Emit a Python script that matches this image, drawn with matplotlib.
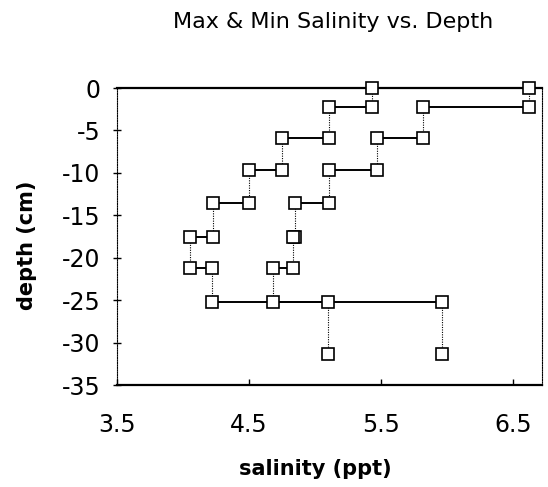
"""Step profiles of max and min salinity through the sediment column."""

import matplotlib

matplotlib.use("Agg")
import matplotlib.pyplot as plt

# layer boundaries (cm, negative downward) and per-layer salinity (ppt)
depth_edges = [0, -2.2, -5.9, -9.7, -13.6, -17.5, -21.2, -25.2, -31.4]
min_salinity = [5.43, 5.11, 4.75, 4.50, 4.23, 4.05, 4.22, 5.10]
max_salinity = [6.62, 5.82, 5.47, 5.11, 4.85, 4.83, 4.68, 5.96]

x_ticks = [3.5, 4.5, 5.5, 6.5]
y_ticks = [0, -5, -10, -15, -20, -25, -30, -35]


def draw_profile(ax, values, edges):
    # constant value within a layer (vertical), jump at each boundary (horizontal)
    for i, v in enumerate(values):
        ax.plot([v, v], [edges[i], edges[i + 1]], color="black",
                lw=0.8, ls=(0, (1, 1.2)), zorder=2)
        if i + 1 < len(values):
            ax.plot([v, values[i + 1]], [edges[i + 1], edges[i + 1]],
                    color="black", lw=1.4, zorder=2)
        ax.plot([v, v], [edges[i], edges[i + 1]], ls="none", marker="s",
                ms=9, mfc="white", mec="black", mew=1.2, zorder=3,
                clip_on=False)


def main() -> None:
    fig = plt.figure(figsize=(5.48, 4.87), dpi=100)
    ax = fig.add_axes([0.2135, 0.2094, 0.7755, 0.6099])

    draw_profile(ax, min_salinity, depth_edges)
    draw_profile(ax, max_salinity, depth_edges)

    ax.set_xlim(3.5, 6.72)
    ax.set_ylim(-35, 0)
    ax.set_xticks(x_ticks)
    ax.set_xticklabels([f"{t:.1f}" for t in x_ticks])
    ax.set_yticks(y_ticks)
    ax.set_yticklabels([str(t) for t in y_ticks])

    for side in ("top", "bottom"):
        ax.spines[side].set_linewidth(1.6)
    for side in ("left", "right"):
        ax.spines[side].set_linewidth(0.8)
        ax.spines[side].set_linestyle((0, (1, 1.2)))

    ax.tick_params(axis="y", direction="inout", length=6, width=1,
                   labelsize=17, pad=9)
    ax.tick_params(axis="x", direction="in", length=4, width=1,
                   labelsize=17, pad=20)

    ax.set_xlabel("salinity (ppt)", fontsize=15, fontweight="bold")
    ax.set_ylabel("depth (cm)", fontsize=15, fontweight="bold")
    ax.xaxis.set_label_coords(0.466, -0.248)
    ax.yaxis.set_label_coords(-0.188, 0.47)
    fig.text(0.607, 0.955, "Max & Min Salinity vs. Depth", fontsize=16,
             ha="center", va="center")

    fig.savefig("out.png", dpi=100)


if __name__ == "__main__":
    main()
